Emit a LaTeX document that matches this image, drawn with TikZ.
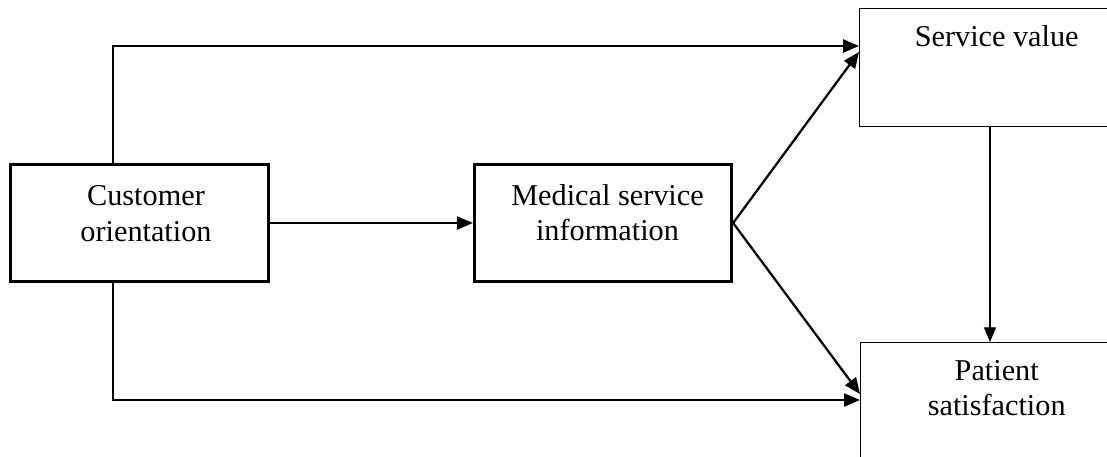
\documentclass[tikz,border=0pt]{standalone}
\usepackage{fontspec}
\setmainfont{Liberation Serif}
\usetikzlibrary{arrows.meta}
\begin{document}
\begin{tikzpicture}[x=0.75pt,y=-0.75pt,
  thickbox/.style={draw, line width=2.25pt, minimum width=193pt, minimum height=88pt, inner sep=0pt},
  thinbox/.style={draw, line width=0.8pt, minimum width=195pt, inner sep=0pt, anchor=north west},
  lbl/.style={font=\fontsize{22.7}{27}\selectfont, anchor=base, inner sep=0pt},
  conn/.style={line width=1.1pt, -{Triangle[length=12pt,width=10pt]}},
  diag/.style={line width=1.7pt, -{Triangle[length=12pt,width=10pt]}},
  vconn/.style={line width=0.9pt, -{Triangle[length=11pt,width=9pt]}}]
\useasboundingbox (0,0) rectangle (1107,457);
\node[thickbox] (co) at (139.5,223) {};
\node[thickbox] (msi) at (603,223) {};
\node[thinbox, minimum height=88.5pt] (sv) at (859,8) {};
\node[thinbox, minimum height=95pt] (ps) at (860,342) {};
\node[lbl] (co1) at (146,205) {Customer};
\node[lbl] (co2) at (146,241.7) {orientation};
\node[lbl] (msi1) at (607.5,205) {Medical service};
\node[lbl] (msi2) at (607.5,240.7) {information};
\node[lbl] (sv1) at (996.7,46.7) {Service value};
\node[lbl] (ps1) at (996.7,380) {Patient};
\node[lbl] (ps2) at (996.7,415) {satisfaction};
\coordinate (t) at (113,46);
\coordinate (b) at (113,400);
\coordinate (dt) at (859,52);
\coordinate (db) at (859,394);
\coordinate (v) at (990,0);
\draw[conn] (co.north -| t) |- (sv.west |- t);
\draw[conn] (co.south -| b) |- (ps.west |- b);
\draw[conn] (co) -- (msi);
\draw[diag] (msi.east) -- (sv.west |- dt);
\draw[diag] (msi.east) -- (ps.west |- db);
\draw[vconn] (sv.south -| v) -- (ps.north -| v);
\end{tikzpicture}
\end{document}
